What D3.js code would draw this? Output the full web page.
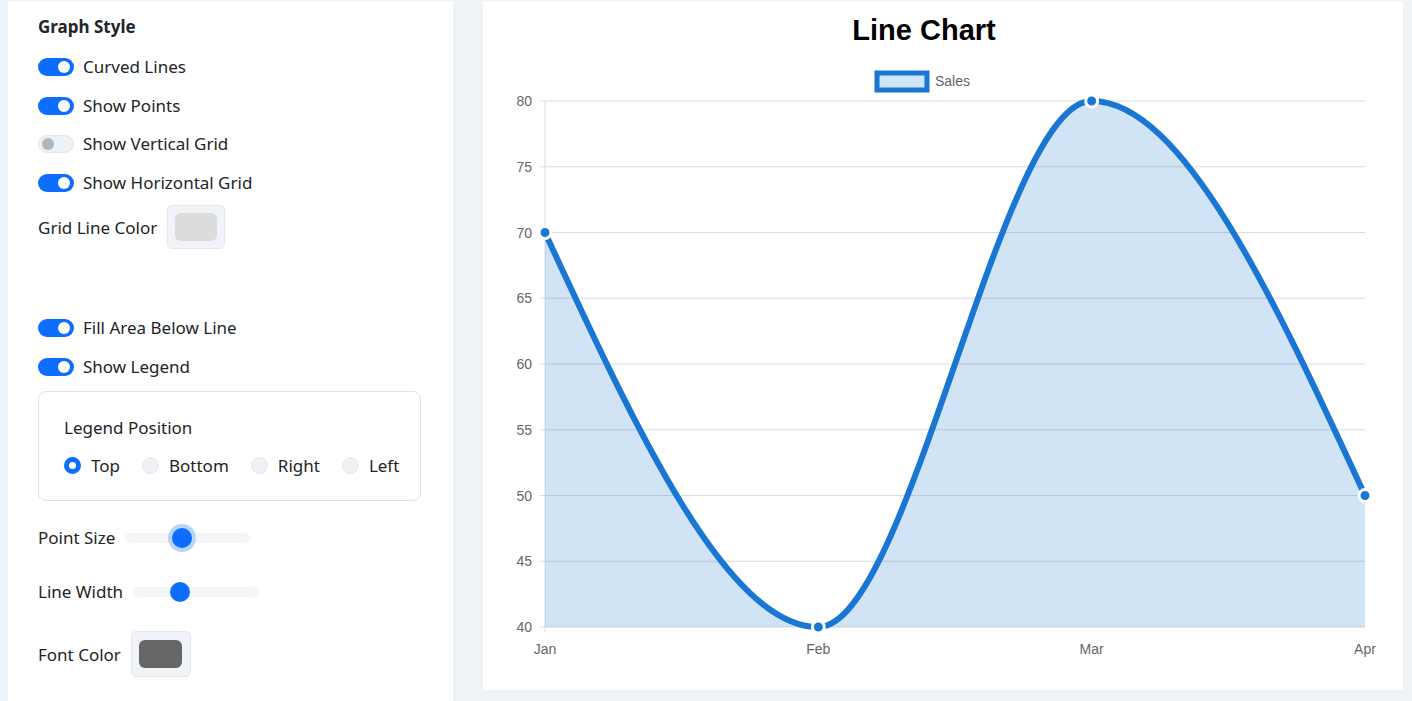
<!DOCTYPE html>
<html><head><meta charset="utf-8">
<script src="https://cdn.jsdelivr.net/npm/d3@7"></script>
<style>
body{margin:0;background:#eef3f8;font-family:"Noto Sans",sans-serif;color:#212529;width:1412px;height:701px;overflow:hidden;position:relative}
#panel{position:absolute;left:8px;top:1px;width:445px;height:700px;background:#fff}
.row{position:absolute;left:30px;display:flex;align-items:center;font-size:17px}
.tog{width:36px;height:18px;border-radius:9px;background:#0d6efd;position:relative;margin-right:9px}
.tog::after{content:"";position:absolute;right:4px;top:3px;width:12px;height:12px;border-radius:6px;background:#fff}
.tog.off{background:#eef2f6;border:1px solid #e3e7eb;box-sizing:border-box}
.tog.off::after{left:3px;right:auto;top:2px;background:#adb5bd}
.sw{width:58px;height:44px;border:1px solid #e3e7eb;background:#f0f4f8;border-radius:5px;display:flex;align-items:center;justify-content:center;margin-left:10px;box-sizing:border-box}
.sw div{width:42px;height:28px;border-radius:6px}
#legbox{position:absolute;left:30px;top:390px;width:383px;height:110px;border:1px solid #dee2e6;border-radius:8px;box-sizing:border-box}
.radio{width:17px;height:17px;border-radius:50%;background:#eef2f6;border:1px solid #e3e7eb;box-sizing:border-box;margin-right:10px}
.radio.on{background:#fff;border:5px solid #0d6efd}
.track{height:10px;background:#f3f5f7;border-radius:5px;position:relative}
.knob{position:absolute;width:20px;height:20px;border-radius:50%;background:#0d6efd;top:-5px}
#card{position:absolute;left:483px;top:1px;width:920px;height:689px;background:#fff}
</style></head><body>
<div id="panel">
<div class="row" style="top:14px;font-weight:700">Graph Style</div>
<div class="row" style="top:54px"><div class="tog"></div>Curved Lines</div>
<div class="row" style="top:93px"><div class="tog"></div>Show Points</div>
<div class="row" style="top:131px"><div class="tog off"></div>Show Vertical Grid</div>
<div class="row" style="top:170px"><div class="tog"></div>Show Horizontal Grid</div>
<div class="row" style="top:204px">Grid Line Color<div class="sw" style="margin-left:10px"><div style="background:#dcdcdc"></div></div></div>
<div class="row" style="top:315px"><div class="tog"></div>Fill Area Below Line</div>
<div class="row" style="top:354px"><div class="tog"></div>Show Legend</div>
<div id="legbox">
<div style="position:absolute;left:25px;top:24px;font-size:17px">Legend Position</div>
<div style="position:absolute;left:25px;top:62px;display:flex;align-items:center;font-size:17px">
<div class="radio on"></div><span style="margin-right:22px">Top</span>
<div class="radio"></div><span style="margin-right:22px">Bottom</span>
<div class="radio"></div><span style="margin-right:22px">Right</span>
<div class="radio"></div><span>Left</span></div>
</div>
<div class="row" style="top:525px">Point Size<div class="track" style="width:125px;margin-left:10px"><div class="knob" style="left:47px;box-shadow:0 0 0 4px #b9d3fb"></div></div></div>
<div class="row" style="top:579px">Line Width<div class="track" style="width:125px;margin-left:10px"><div class="knob" style="left:37px"></div></div></div>
<div class="row" style="top:630px">Font Color<div class="sw" style="margin-left:10px;width:60px;height:46px"><div style="background:#666;width:43px"></div></div></div>
</div>
<div id="card"><svg id="chart" width="920" height="689"></svg></div>
<script>
const categories=["Jan","Feb","Mar","Apr"];
const sales=[70,40,80,50];
const yTicks=[40,45,50,55,60,65,70,75,80];
const seriesName="Sales";
const svg=d3.select("#chart");
const ox=483, oy=1;
const x=d3.scalePoint().domain(categories).range([545-ox,1365-ox]);
const y=d3.scaleLinear().domain([40,80]).range([627-oy,101-oy]);
svg.append("text").attr("x",441).attr("y",39).attr("text-anchor","middle").attr("font-family","Liberation Sans, Arial").attr("font-weight","bold").attr("font-size",29).attr("fill","#000").text("Line Chart");
// legend
svg.append("rect").attr("x",394).attr("y",72).attr("width",50).attr("height",17).attr("fill","#d0e4f7").attr("stroke","#1976d2").attr("stroke-width",5);
svg.append("text").attr("x",452).attr("y",85).attr("font-family","Liberation Sans, Arial").attr("font-size",14).attr("fill","#666").text(seriesName);
const g=svg.append("g");
g.selectAll("line.grid").data(yTicks).join("line").attr("x1",x.range()[0]-5).attr("x2",x.range()[1]).attr("y1",d=>y(d)).attr("y2",d=>y(d)).attr("stroke","#dcdcdc");
g.append("line").attr("x1",x.range()[0]).attr("x2",x.range()[0]).attr("y1",y(80)).attr("y2",y(40)+5).attr("stroke","#dcdcdc");
g.selectAll("text.yl").data(yTicks).join("text").attr("x",x.range()[0]-13).attr("y",d=>y(d)+5).attr("text-anchor","end").attr("font-family","Liberation Sans, Arial").attr("font-size",14).attr("fill","#666").text(d=>d);
g.selectAll("text.xl").data(categories).join("text").attr("x",d=>x(d)).attr("y",653).attr("text-anchor","middle").attr("font-family","Liberation Sans, Arial").attr("font-size",14).attr("fill","#666").text(d=>d);
const data=categories.map((c,i)=>({c,v:sales[i]}));
const area=d3.area().x(d=>x(d.c)).y0(y(40)).y1(d=>y(d.v)).curve(d3.curveMonotoneX);
const line=d3.line().x(d=>x(d.c)).y(d=>y(d.v)).curve(d3.curveMonotoneX);
g.append("path").attr("d",area(data)).attr("fill","rgba(25,118,210,0.2)");
g.append("path").attr("d",line(data)).attr("fill","none").attr("stroke","#1976d2").attr("stroke-width",6);
g.selectAll("circle").data(data).join("circle").attr("cx",d=>x(d.c)).attr("cy",d=>y(d.v)).attr("r",6).attr("fill","#1976d2").attr("stroke","#fff").attr("stroke-width",3);
</script>
</body></html>
